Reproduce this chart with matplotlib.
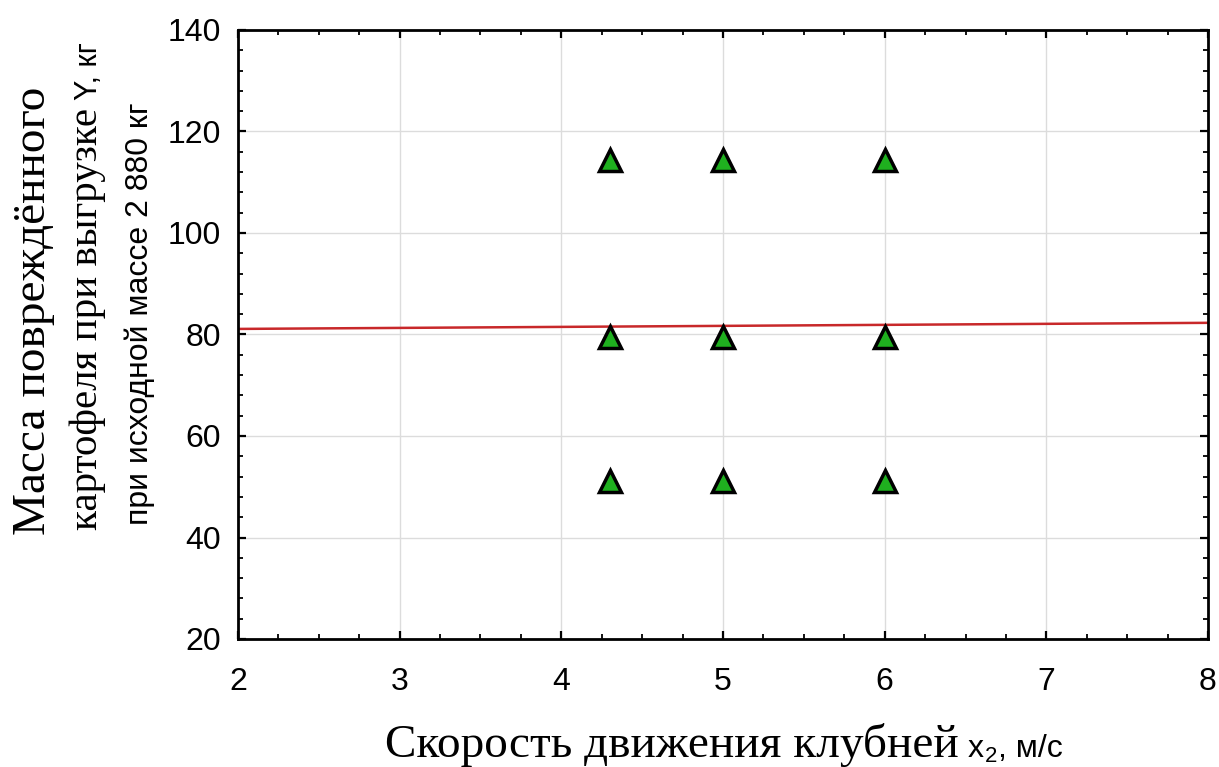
import matplotlib

matplotlib.use("Agg")
import matplotlib.pyplot as plt
from matplotlib.ticker import MultipleLocator

# measured points: tuber speed x2 (m/s) vs damaged mass Y (kg)
speed = [4.3, 5.0, 6.0, 4.3, 5.0, 6.0, 4.3, 5.0, 6.0]
damaged_mass = [114.4, 114.4, 114.4, 79.5, 79.5, 79.5, 51.2, 51.2, 51.2]

# fitted regression line over the plotted range
fit_x = [2.0, 8.0]
fit_y = [81.1, 82.3]

x_ticks = [2, 3, 4, 5, 6, 7, 8]
y_ticks = [20, 40, 60, 80, 100, 120, 140]

W, H = 1219, 767
SERIF = "Liberation Serif"
SANS = "Liberation Sans"

fig = plt.figure(figsize=(W / 100, H / 100), dpi=100)
ax = fig.add_axes([238 / W, 1 - 639 / H, (1208 - 238) / W, (639 - 30) / H])

ax.grid(True, color="#dcdcdc", linewidth=1.0, zorder=0)
ax.plot(fit_x, fit_y, color="#c8282a", linewidth=1.8, zorder=2)
ax.plot(speed, damaged_mass, linestyle="none", marker="^", markersize=16.5,
        markerfacecolor="#1fb01f", markeredgecolor="black", markeredgewidth=2.5,
        zorder=3, clip_on=False)

ax.set_xlim(x_ticks[0], x_ticks[-1])
ax.set_ylim(y_ticks[0], y_ticks[-1])
ax.set_xticks(x_ticks)
ax.set_yticks(y_ticks)
ax.xaxis.set_minor_locator(MultipleLocator(0.25))
ax.yaxis.set_minor_locator(MultipleLocator(4))
ax.tick_params(which="both", direction="in", top=True, right=True, color="black")
ax.tick_params(which="major", length=6, width=1.6)
ax.tick_params(which="minor", length=3.5, width=1.3)
ax.tick_params(axis="x", which="major", pad=20, labelsize=23)
ax.tick_params(axis="y", which="major", pad=12, labelsize=23)
for lab in ax.get_xticklabels() + ax.get_yticklabels():
    lab.set_fontfamily(SANS)
for sp in ax.spines.values():
    sp.set_linewidth(2.0)

renderer = fig.canvas.get_renderer()


def put_pieces(x0, y0, pieces, vertical=False):
    """Lay out text pieces with different fonts along one baseline (pixel coords, y from top)."""
    pos = 0.0
    for text, props, shift, gap in pieces:
        pos += gap
        if vertical:
            px, py = x0 + shift, y0 - pos
            rot = 90
        else:
            px, py = x0 + pos, y0 + shift
            rot = 0
        t = fig.text(px / W, 1 - py / H, text, rotation=rot, rotation_mode="anchor",
                     ha="left", va="baseline", **props)
        bb = t.get_window_extent(renderer)
        pos += bb.height if vertical else bb.width


serif_big = dict(family=SERIF, fontsize=34)
serif_mid = dict(family=SERIF, fontsize=29.5)
sans_mid = dict(family=SANS, fontsize=22)
sans_line = dict(family=SANS, fontsize=23)
sans_sub = dict(family=SANS, fontsize=16)

# y axis label, three rotated lines
put_pieces(45, 535, [("Масса повреждённого", serif_big, 0, 0)], vertical=True)
put_pieces(97, 530, [("картофеля при выгрузке", serif_mid, 0, 0),
                     ("Y, кг", sans_mid, 0, 8)], vertical=True)
put_pieces(148, 525, [("при исходной массе 2 880 кг", sans_line, 0, 0)], vertical=True)

# x axis label
put_pieces(385, 757, [("Скорость движения клубней", serif_big, 0, 0),
                      ("x", sans_line, 0, 9),
                      ("2", sans_sub, 5, 1),
                      (", м/с", sans_line, 0, 1)])

fig.savefig("out.png", dpi=100)
